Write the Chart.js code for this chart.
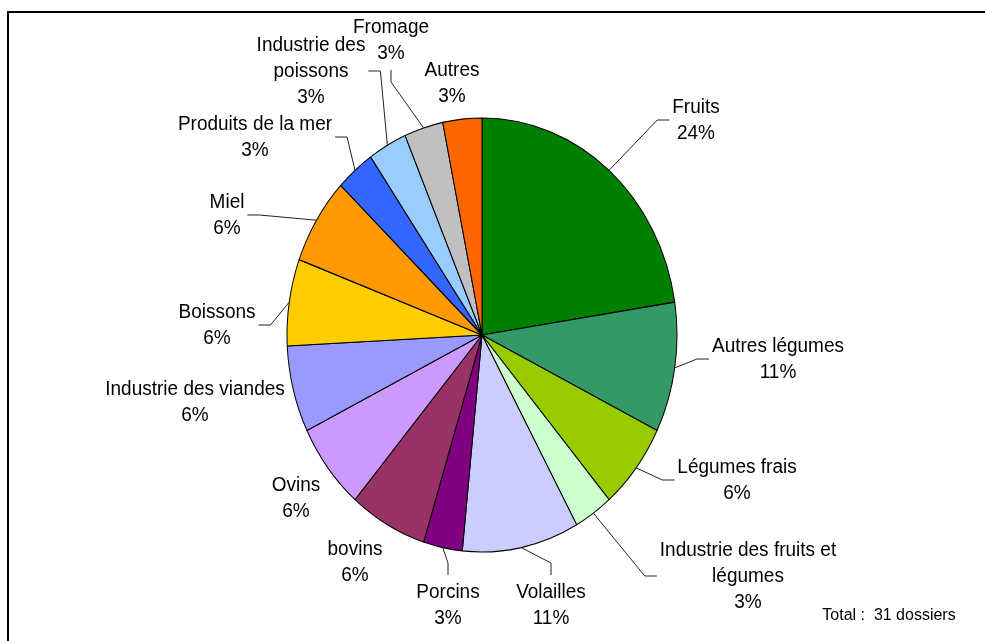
<!DOCTYPE html>
<html>
<head>
<meta charset="utf-8">
<title>Répartition des dossiers</title>
<script src="https://cdn.jsdelivr.net/npm/chart.js@4"></script>
<style>
  html, body { margin: 0; padding: 0; background: #fff; }
  #wrap { position: relative; width: 985px; height: 641px; }
</style>
</head>
<body>
<div id="wrap"><canvas id="pieChart"></canvas></div>
<script>
// Categories, clockwise from 12 o'clock ("\n" = line break in the label)
const categories = [
  'Fruits', 'Autres légumes', 'Légumes frais', 'Industrie des fruits et\nlégumes',
  'Volailles', 'Porcins', 'bovins', 'Ovins', 'Industrie des viandes', 'Boissons',
  'Miel', 'Produits de la mer', 'Industrie des\npoissons', 'Fromage', 'Autres'
];
// Number of dossiers per category (31 in total)
const dossiers = [7, 3, 2, 1, 3, 1, 2, 2, 2, 2, 2, 1, 1, 1, 1];
// Percentages as printed on the chart
const pctLabels = ['24%', '11%', '6%', '3%', '11%', '3%', '6%', '6%', '6%', '6%', '6%', '3%', '3%', '3%', '3%'];
const totalLabel = 'Total :  31 dossiers';

const colors = [
  '#008000', '#339966', '#99CC00', '#CCFFCC', '#CCCCFF', '#800080', '#993366', '#CC99FF',
  '#9999FF', '#FFCC00', '#FF9900', '#3366FF', '#99CCFF', '#C0C0C0', '#FF6600'
];

// Where each label block sits, relative to the pie centre (px)
const labelOffsets = [
  [214, -215], [296, 24], [255, 145], [266, 241], [69, 270], [-34, 270], [-127, 227],
  [-186, 163], [-287, 67], [-265, -10], [-255, -120], [-227, -198], [-171, -264],
  [-91, -295], [-30, -252]
];

const Y_STRETCH = 1.113;   // the pie is a bit taller than wide
const TEXT_STRETCH = 1.08; // labels are drawn slightly tall too
const LINE_H = 26;
const FONT = '19px "Liberation Sans", Arial, sans-serif';

// Black frame around the chart
const framePlugin = {
  id: 'frame',
  beforeDraw(chart) {
    const ctx = chart.ctx;
    ctx.save();
    ctx.fillStyle = '#fff';
    ctx.fillRect(0, 0, chart.width, chart.height);
    ctx.strokeStyle = '#000';
    ctx.lineWidth = 2;
    ctx.strokeRect(8, 12, chart.width + 20, chart.height + 20);
    ctx.restore();
  }
};

// Stretch the pie vertically around its centre
const ellipsePlugin = {
  id: 'ellipse',
  beforeDatasetsDraw(chart) {
    const arc = chart.getDatasetMeta(0).data[0];
    const ctx = chart.ctx;
    ctx.save();
    ctx.translate(arc.x, arc.y);
    ctx.scale(1, Y_STRETCH);
    ctx.translate(-arc.x, -arc.y);
  },
  afterDatasetsDraw(chart) {
    chart.ctx.restore();
  }
};

function tallText(ctx, text, x, y) {
  ctx.save();
  ctx.translate(x, y);
  ctx.scale(1, TEXT_STRETCH);
  ctx.fillText(text, 0, 0);
  ctx.restore();
}

// Category + percentage labels with leader lines
const labelPlugin = {
  id: 'sliceLabels',
  afterDraw(chart) {
    const ctx = chart.ctx;
    const meta = chart.getDatasetMeta(0);
    ctx.save();
    ctx.font = FONT;
    ctx.textAlign = 'center';
    ctx.textBaseline = 'middle';

    meta.data.forEach((arc, i) => {
      const lines = categories[i].split('\n').concat(pctLabels[i]);
      const bx = arc.x + labelOffsets[i][0];
      const by = arc.y + labelOffsets[i][1];
      const h = lines.length * LINE_H;
      const w = Math.max(...lines.map(l => ctx.measureText(l).width));
      const box = { l: bx - w / 2, r: bx + w / 2, t: by - h / 2, b: by + h / 2 };

      // start of the leader: edge of the slice at its middle angle
      const mid = (arc.startAngle + arc.endAngle) / 2;
      const sx = arc.x + Math.cos(mid) * arc.outerRadius;
      const sy = arc.y + Math.sin(mid) * arc.outerRadius * Y_STRETCH;

      let gap, elbow, end;
      if (sx >= box.l && sx <= box.r) {
        if (sy > box.b) {
          gap = sy - box.b;
          end = [bx, box.b + 4]; elbow = [bx, box.b + 16];
        } else {
          gap = box.t - sy;
          end = [bx, box.t - 4]; elbow = [bx, box.t - 16];
        }
      } else if (sx < box.l) {
        gap = box.l - sx;
        end = [box.l - 3, by]; elbow = [box.l - 15, by];
      } else {
        gap = sx - box.r;
        end = [box.r + 3, by]; elbow = [box.r + 15, by];
      }

      if (gap > 15) {
        ctx.strokeStyle = '#222';
        ctx.lineWidth = 1;
        ctx.beginPath();
        ctx.moveTo(sx, sy);
        ctx.lineTo(elbow[0], elbow[1]);
        ctx.lineTo(end[0], end[1]);
        ctx.stroke();
      }

      ctx.fillStyle = '#000';
      lines.forEach((line, k) => {
        tallText(ctx, line, bx, box.t + LINE_H * (k + 0.5));
      });
    });

    ctx.font = '16px "Liberation Sans", Arial, sans-serif';
    tallText(ctx, totalLabel, 889, 615);
    ctx.restore();
  }
};

new Chart(document.getElementById('pieChart'), {
  type: 'pie',
  data: {
    labels: categories,
    datasets: [{
      data: dossiers,
      backgroundColor: colors,
      borderColor: '#000',
      borderWidth: 1,
      radius: 195,
      clip: false
    }]
  },
  options: {
    responsive: true,
    maintainAspectRatio: false,
    animation: false,
    events: [],
    layout: { padding: { left: 0, right: 21, top: 29, bottom: 0 } },
    plugins: {
      legend: { display: false },
      tooltip: { enabled: false }
    }
  },
  plugins: [framePlugin, ellipsePlugin, labelPlugin]
});
</script>
</body>
</html>
